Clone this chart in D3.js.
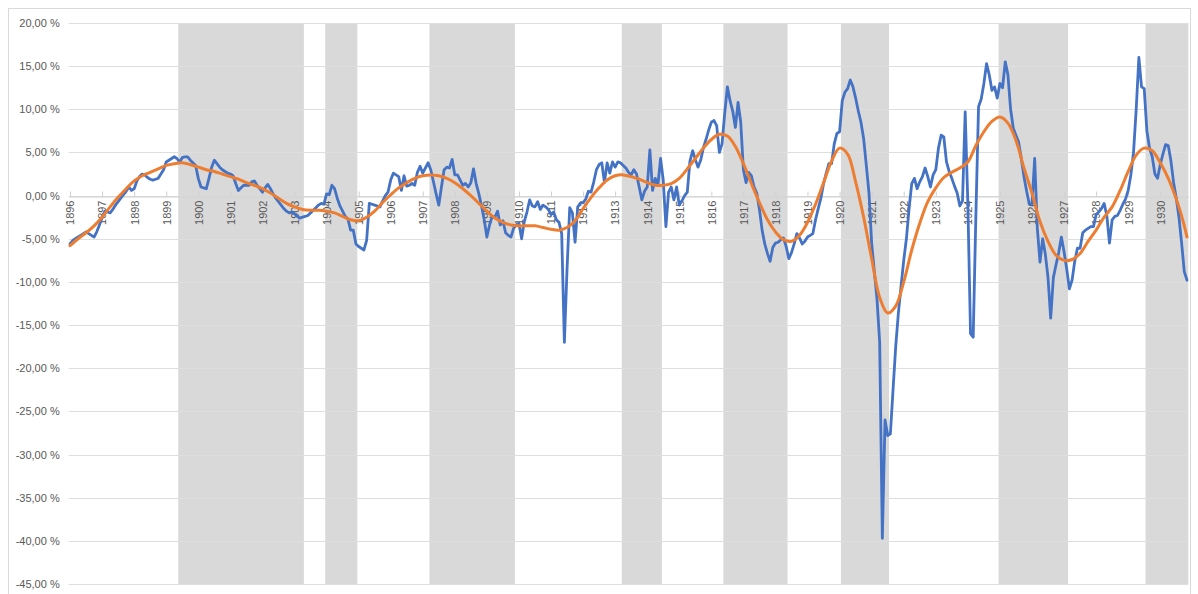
<!DOCTYPE html>
<html>
<head>
<meta charset="utf-8">
<script src="https://cdn.jsdelivr.net/npm/d3@7"></script>
<style>
  html, body { margin: 0; padding: 0; background: #ffffff; }
  svg { display: block; }
</style>
</head>
<body>
<svg id="chart" width="1198" height="594"></svg>
<script>
// ---------------- DATA ----------------
const startYear = 1896;

// Category labels shown on the x axis (one per January), as printed in the original (incl. "1816")
const yearLabels = ["1896","1897","1898","1899","1900","1901","1902","1903","1904","1905",
  "1906","1907","1908","1909","1910","1911","1912","1913","1914","1915","1816","1917",
  "1918","1919","1920","1921","1922","1923","1924","1925","1926","1927","1928","1929","1930"];

// Monthly series (blue), Jan 1896 – Nov 1930, in %
const blueValues = [
  -5.6,-5.2,-5.0,-4.8,-4.6,-4.4,-4.2,-4.4,-4.6,-4.8,-4.2,-3.4,      // 1896
  -2.6,-1.8,-1.9,-2.0,-1.6,-1.1,-0.7,-0.3,0.1,0.5,1.0,0.6,          // 1897
  0.8,1.7,2.2,2.5,2.4,2.1,1.9,1.8,1.9,2.0,2.5,3.0,                  // 1898
  3.9,4.1,4.3,4.5,4.3,3.9,4.4,4.5,4.5,4.1,3.8,3.5,                  // 1899
  2.0,1.0,0.9,0.8,2.0,3.3,4.1,3.7,3.3,3.0,2.8,2.6,                  // 1900
  2.5,2.3,1.4,0.6,0.9,1.2,1.2,1.2,1.6,1.7,1.2,0.8,                  // 1901
  0.4,0.9,1.3,0.8,0.2,-0.3,-0.7,-1.1,-1.5,-1.8,-2.0,-1.9,           // 1902
  -2.1,-2.4,-2.6,-2.5,-2.4,-2.3,-2.0,-1.7,-1.4,-1.1,-0.9,-1.0,      // 1903
  0.2,0.1,1.2,0.8,-0.3,-1.2,-1.8,-2.4,-2.7,-4.0,-4.0,-5.6,          // 1904
  -5.9,-6.1,-6.3,-5.2,-0.9,-1.0,-1.1,-1.2,-1.3,-0.6,0.0,0.4,        // 1905
  1.8,2.6,2.4,2.2,0.6,2.3,1.1,1.2,1.4,1.2,2.7,3.4,                  // 1906
  2.6,3.2,3.8,3.0,1.6,0.2,-1.1,1.0,3.0,3.3,3.2,4.2,                 // 1907
  2.4,2.4,1.8,1.2,1.4,1.0,1.5,3.1,1.4,0.2,-1.2,-2.8,                // 1908
  -4.8,-3.4,-2.4,-2.5,-1.8,-3.4,-2.9,-4.3,-4.6,-4.8,-3.8,-3.4,      // 1909
  -3.2,-5.0,-3.0,-1.9,-0.5,-1.2,-1.3,-0.7,-1.6,-1.1,-1.3,-1.6,      // 1910
  -2.2,-1.9,-2.8,-3.1,-4.4,-17.0,-8.5,-1.4,-2.0,-5.4,-1.3,-0.9,     // 1911
  -0.8,-0.4,0.5,0.4,1.6,3.0,3.6,3.8,1.5,3.8,2.6,3.9,                // 1912
  3.3,3.9,3.8,3.5,3.2,2.7,2.4,3.0,2.5,1.0,-0.5,0.5,                 // 1913
  1.0,5.3,0.6,2.0,1.2,4.3,1.8,-3.6,0.4,1.0,-0.5,1.0,                // 1914
  -1.1,-0.6,0.0,0.4,4.0,5.2,4.2,3.3,4.1,5.5,6.5,7.6,                // 1915
  8.5,8.7,8.1,5.0,6.0,9.5,12.6,11.0,9.8,7.9,10.8,8.5,               // 1916
  3.0,1.5,2.7,2.3,1.0,0.3,-1.6,-4.0,-5.6,-6.7,-7.6,-6.0,            // 1917
  -5.5,-5.4,-5.1,-4.9,-5.9,-7.3,-6.6,-5.6,-4.4,-4.9,-5.6,-5.3,      // 1918
  -4.8,-4.6,-4.4,-2.8,-1.5,-0.3,1.4,2.6,3.7,3.7,6.0,7.2,            // 1919
  7.4,11.0,12.0,12.4,13.4,12.6,11.3,9.8,8.5,6.6,3.5,0.3,            // 1920
  -5.5,-8.8,-12.0,-17.0,-39.7,-26.0,-27.8,-27.6,-22.5,-17.5,-13.6,-10.5, // 1921
  -7.5,-5.0,-1.5,1.4,2.0,0.8,1.6,2.2,3.2,2.2,1.0,2.4,               // 1922
  3.0,5.5,7.0,6.8,3.9,2.8,2.0,1.1,0.3,-1.2,-0.6,9.7,                // 1923
  -1.0,-16.0,-16.4,-2.3,10.3,11.2,13.0,15.3,14.0,12.2,12.6,11.3,    // 1924
  13.0,12.5,15.5,14.0,10.0,7.8,7.0,6.2,4.3,2.2,0.5,-1.0,            // 1925
  -1.0,4.3,-3.8,-7.7,-5.0,-6.8,-9.5,-14.2,-9.5,-8.0,-6.6,-4.8,      // 1926
  -6.5,-8.5,-10.8,-9.8,-7.6,-6.1,-6.1,-4.3,-4.0,-3.8,-3.6,-3.6,     // 1927
  -2.2,-1.9,-1.5,-0.9,-2.3,-5.5,-2.8,-2.4,-2.3,-1.7,-1.0,-0.4,      // 1928
  0.6,2.4,5.0,10.0,16.0,12.6,12.4,7.5,5.5,4.5,2.5,2.0,              // 1929
  3.6,4.8,5.9,5.8,4.0,1.5,-0.3,-2.5,-5.5,-8.8,-9.8                  // 1930
];

// Smoothed trend (orange), read every 3 months from Jan 1896; last value = last month
const trendValues = [
  -5.8,-5.0,-4.3,-3.5,-2.5,-1.3,-0.2,0.8,1.7,2.3,          // q0-9
  2.7,3.1,3.5,3.7,3.8,3.6,3.3,3.0,2.8,2.5,                 // q10-19
  2.2,1.9,1.5,1.2,0.8,0.3,-0.3,-0.9,-1.3,-1.6,             // q20-29
  -1.7,-1.7,-1.8,-2.0,-2.4,-2.8,-2.9,-2.5,-1.8,-0.8,       // q30-39
  0.1,0.9,1.5,2.0,2.3,2.4,2.3,2.0,1.5,0.8,                 // q40-49
  0.0,-0.9,-1.8,-2.6,-3.1,-3.4,-3.5,-3.5,-3.5,-3.7,        // q50-59
  -3.9,-4.0,-3.7,-2.9,-1.5,-0.2,0.9,1.8,2.3,2.4,           // q60-69
  2.2,1.9,1.5,1.2,1.2,1.4,2.0,3.1,4.3,5.5,                 // q70-79
  6.5,7.1,6.9,5.7,3.7,1.4,-0.8,-2.8,-4.2,-5.1,             // q80-89
  -5.3,-4.6,-3.1,-1.0,1.5,4.0,5.5,4.8,1.6,-2.5,            // q90-99
  -7.3,-11.8,-13.6,-12.8,-10.0,-6.3,-3.2,-0.7,0.9,2.1,     // q100-109
  2.7,3.2,3.9,5.8,7.4,8.6,9.1,8.4,6.4,3.2,                 // q110-119
  0.3,-3.0,-5.3,-6.9,-7.5,-7.4,-6.7,-5.3,-4.0,-2.5,        // q120-129
  -1.3,0.6,2.8,4.7,5.5,5.2,3.8,2.0,-0.4,-3.5,              // q130-139
  -4.8                                                     // last month
];

// Shaded periods (first month, last month)
const shadedPeriods = [
  ["1899-06","1903-04"],
  ["1904-01","1904-12"],
  ["1907-04","1909-11"],
  ["1913-04","1914-06"],
  ["1916-06","1918-05"],
  ["1920-02","1921-07"],
  ["1925-01","1927-02"],
  ["1929-08","1930-11"]
];

const yTicks = [20,15,10,5,0,-5,-10,-15,-20,-25,-30,-35,-40,-45];
const yTickLabels = ["20,00 %","15,00 %","10,00 %","5,00 %","0,00 %","-5,00 %","-10,00 %",
  "-15,00 %","-20,00 %","-25,00 %","-30,00 %","-35,00 %","-40,00 %","-45,00 %"];

// ---------------- DRAWING ----------------
const N = blueValues.length;
const monthIndex = s => { const [yy, mm] = s.split("-").map(Number); return (yy - startYear) * 12 + (mm - 1); };

const svg = d3.select("#chart");
const FONT = "'Liberation Sans', Arial, sans-serif";
const TEXT = "#595959";

const x = d3.scaleLinear().domain([-0.5, N - 0.5]).range([68.7, 1188.3]);
const y = d3.scaleLinear().domain([-45, 20]).range([584, 23]);

// outer chart border
svg.append("rect").attr("x", 8.5).attr("y", 8.5).attr("width", 1182).attr("height", 600)
  .attr("fill", "none").attr("stroke", "#d9d9d9").attr("stroke-width", 1);

// shaded bands
svg.append("g").selectAll("rect").data(shadedPeriods).join("rect")
  .attr("x", d => x(monthIndex(d[0]) - 0.5))
  .attr("width", d => x(Math.min(monthIndex(d[1]), N - 1) + 0.5) - x(monthIndex(d[0]) - 0.5))
  .attr("y", y(20)).attr("height", y(-45) - y(20))
  .attr("fill", "#d9d9d9");

// gridlines
svg.append("g").selectAll("line").data(yTicks).join("line")
  .attr("x1", x(-0.5)).attr("x2", x(N - 0.5))
  .attr("y1", d => Math.round(y(d)) + 0.5).attr("y2", d => Math.round(y(d)) + 0.5)
  .attr("stroke", "#dedede").attr("stroke-width", 1);

// y axis labels
const yAxis = d3.axisLeft(y).tickValues(yTicks)
  .tickFormat((d, i) => yTickLabels[i]).tickSize(0).tickPadding(0);
const gy = svg.append("g").attr("transform", `translate(${x(-0.5) - 9},0)`).call(yAxis);
gy.select(".domain").remove();
gy.selectAll("text").attr("fill", TEXT).style("font-family", FONT).style("font-size", "11px");

// x axis (category axis at 0 %)
const yearTicks = yearLabels.map((d, i) => i * 12);
const xAxis = d3.axisBottom(x).tickValues(yearTicks)
  .tickFormat((d, i) => yearLabels[i]).tickSizeInner(-5).tickSizeOuter(0);
const zeroY = Math.round(y(0)) + 0.5;
const gx = svg.append("g").attr("transform", `translate(0,${zeroY})`).call(xAxis);
gx.select(".domain").attr("stroke", "#d0d0d0");
gx.selectAll(".tick line").attr("stroke", "#d0d0d0");
gx.selectAll("text")
  .attr("transform", "rotate(-90)")
  .attr("text-anchor", "end")
  .attr("x", -4).attr("y", 0).attr("dy", "0.35em")
  .attr("fill", TEXT).style("font-family", FONT).style("font-size", "11px");

// blue monthly line
const blueLine = d3.line().x((d, i) => x(i)).y(d => y(d)).curve(d3.curveLinear);
svg.append("path").datum(blueValues)
  .attr("d", blueLine)
  .attr("fill", "none").attr("stroke", "#4472c4").attr("stroke-width", 2.8)
  .attr("stroke-linejoin", "round").attr("stroke-linecap", "round");

// orange trend line
const trendIndex = i => Math.min(i * 3, N - 1);
const trendLine = d3.line().x((d, i) => x(trendIndex(i))).y(d => y(d)).curve(d3.curveCatmullRom.alpha(0.5));
svg.append("path").datum(trendValues)
  .attr("d", trendLine)
  .attr("fill", "none").attr("stroke", "#ed7d31").attr("stroke-width", 3)
  .attr("stroke-linejoin", "round").attr("stroke-linecap", "round");
</script>
</body>
</html>
